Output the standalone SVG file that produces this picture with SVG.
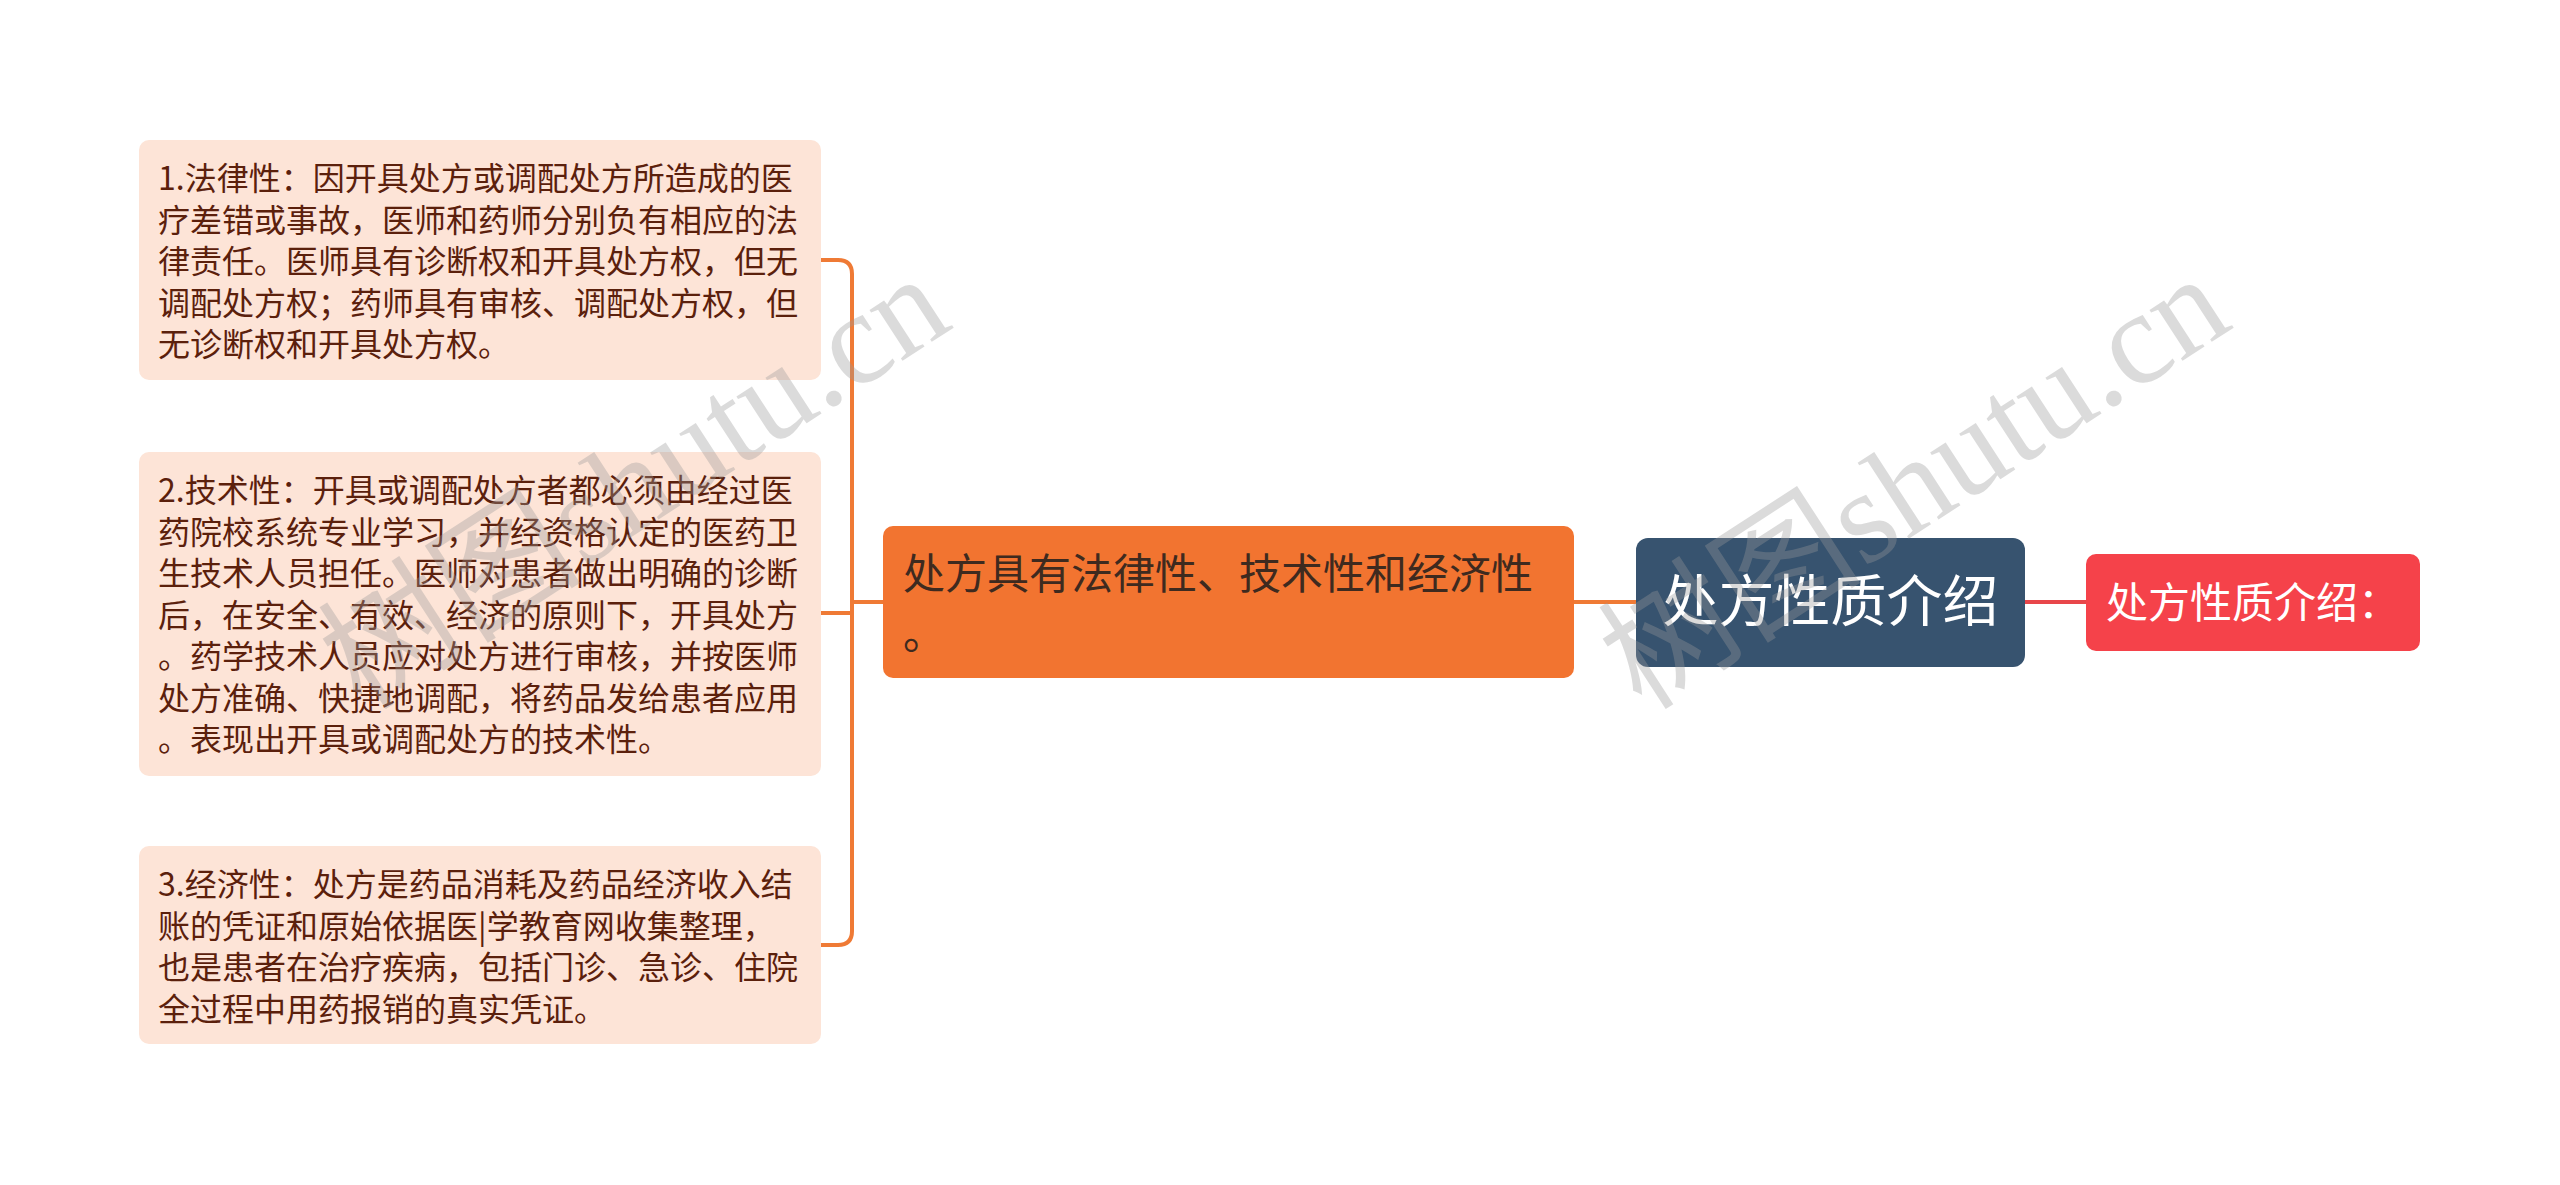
<svg xmlns="http://www.w3.org/2000/svg" width="2560" height="1185" viewBox="0 0 2560 1185">
<style>
.leaf rect{fill:#FDE4D7}
.leaf text{font-family:"Noto Sans CJK SC","Noto Sans",sans-serif;font-size:32px;fill:#5B200C}
.mid rect{fill:#F27430}
.mid text{font-family:"Noto Sans CJK SC","Noto Sans",sans-serif;font-size:42px;fill:#3E2A1F}
.root rect{fill:#37536F}
.root text{font-family:"Noto Sans CJK SC","Noto Sans",sans-serif;font-size:56px;fill:#FFFFFF}
.red rect{fill:#F5424A}
.red text{font-family:"Noto Sans CJK SC","Noto Sans",sans-serif;font-size:42px;fill:#FFFFFF}
.conn path{fill:none;stroke-width:4;stroke-linecap:butt}
.wm{font-family:"Liberation Serif","Noto Sans CJK SC",serif;font-size:132px;fill:#9a9a9a;opacity:0.35}
</style>
<rect width="2560" height="1185" fill="#FFFFFF"/>
<g id="connectors" class="conn">
<path d="M821,260 H838 Q852,260 852,274 V931 Q852,945 838,945 H821" stroke="#EF7A35"/>
<path d="M821,613 H852" stroke="#EF7A35"/>
<path d="M852,602 H883" stroke="#EF7A35"/>
<path d="M1574,602 H1636" stroke="#EF7A35"/>
<path d="M2025,602 H2086" stroke="#E8464A" stroke-width="3.5"/>
</g>
<g id="leaf1" class="leaf">
<rect x="139" y="140" width="682" height="240" rx="10"/>
<text x="158" y="190">1.法律性：因开具处方或调配处方所造成的医</text>
<text x="158" y="231.5">疗差错或事故，医师和药师分别负有相应的法</text>
<text x="158" y="273">律责任。医师具有诊断权和开具处方权，但无</text>
<text x="158" y="314.5">调配处方权；药师具有审核、调配处方权，但</text>
<text x="158" y="356">无诊断权和开具处方权。</text>
</g>
<g id="leaf2" class="leaf">
<rect x="139" y="452" width="682" height="324" rx="10"/>
<text x="158" y="502">2.技术性：开具或调配处方者都必须由经过医</text>
<text x="158" y="543.5">药院校系统专业学习，并经资格认定的医药卫</text>
<text x="158" y="585">生技术人员担任。医师对患者做出明确的诊断</text>
<text x="158" y="626.5">后，在安全、有效、经济的原则下，开具处方</text>
<text x="158" y="668">。药学技术人员应对处方进行审核，并按医师</text>
<text x="158" y="709.5">处方准确、快捷地调配，将药品发给患者应用</text>
<text x="158" y="751">。表现出开具或调配处方的技术性。</text>
</g>
<g id="leaf3" class="leaf">
<rect x="139" y="846" width="682" height="198" rx="10"/>
<text x="158" y="896">3.经济性：处方是药品消耗及药品经济收入结</text>
<text x="158" y="937.5">账的凭证和原始依据医|学教育网收集整理，</text>
<text x="158" y="979">也是患者在治疗疾病，包括门诊、急诊、住院</text>
<text x="158" y="1020.5">全过程中用药报销的真实凭证。</text>
</g>
<g id="mid" class="mid">
<rect x="883" y="526" width="691" height="152" rx="10"/>
<text x="903" y="589">处方具有法律性、技术性和经济性</text>
<text x="903" y="649">。</text>
</g>
<g id="root" class="root">
<rect x="1636" y="538" width="389" height="129" rx="12"/>
<text x="1830.5" y="621" text-anchor="middle">处方性质介绍</text>
</g>
<g id="red" class="red">
<rect x="2086" y="554" width="334" height="97" rx="10"/>
<text x="2106" y="618">处方性质介绍：</text>
</g>
<text class="wm" transform="translate(362,712) rotate(-33)">树图shutu.cn</text>
<text class="wm" transform="translate(1642,712) rotate(-33)">树图shutu.cn</text>
</svg>
